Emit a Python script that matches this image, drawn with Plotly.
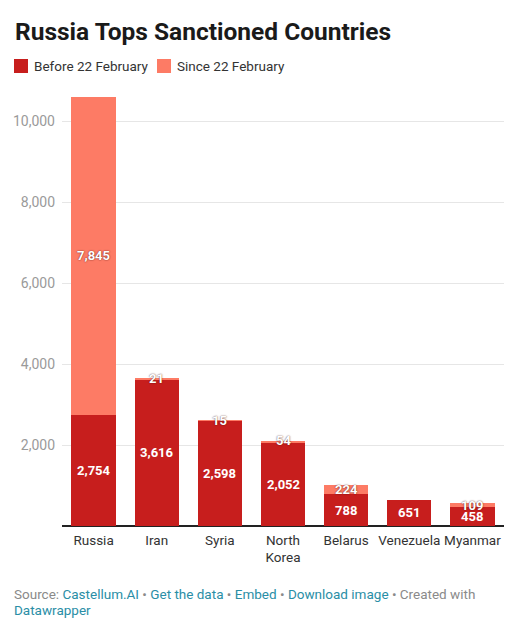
import plotly.graph_objects as go

countries = ["Russia", "Iran", "Syria", "North<br>Korea", "Belarus", "Venezuela", "Myanmar"]
before = [2754, 3616, 2598, 2052, 788, 651, 458]
since = [7845, 21, 15, 54, 224, 0, 109]
y_ticks = [2000, 4000, 6000, 8000, 10000]
series_names = ["Before 22 February", "Since 22 February"]

C_BEFORE = "#c71e1d"
C_SINCE = "#fd7b65"
FONT = "Roboto"
W, H = 508, 634
ML, MR, MT, MB = 62, 4, 97, 108
PW, PH = W - ML - MR, H - MT - MB

def px(x):  # screen x -> paper x
    return (x - ML) / PW

def py(y):  # screen y -> paper y
    return (H - MB - y) / PH

fig = go.Figure()
fig.add_trace(go.Bar(x=countries, y=before, name=series_names[0],
                     marker=dict(color=C_BEFORE, line=dict(width=0)), hoverinfo="skip"))
fig.add_trace(go.Bar(x=countries, y=since, name=series_names[1],
                     marker=dict(color=C_SINCE, line=dict(width=0)), hoverinfo="skip"))

# value labels
for c, b, s in zip(countries, before, since):
    fig.add_annotation(x=c, y=b / 2, text=f"<b>{b:,}</b>", showarrow=False,
                       font=dict(family=FONT, size=13, color="white"), yanchor="middle")
    if s > 0:
        ypos = b + s / 2 if s > 100 else b + s
        fig.add_annotation(x=c, y=ypos, text=f"<b>{s:,}</b>", showarrow=False,
                           font=dict(family=FONT, size=13, color="white",
                                     shadow="0px 0px 1.5px rgba(60,0,0,0.9)"),
                           yanchor="middle")

# title
fig.add_annotation(xref="paper", yref="paper", x=px(13), y=py(31), xanchor="left",
                   yanchor="middle", showarrow=False,
                   text="<b>Russia Tops Sanctioned Countries</b>",
                   font=dict(family=FONT, size=24.5, color="#1a1a1a"))

# legend (drawn manually to match spacing)
for (sx, tx), name, col in zip([(14, 32), (157, 175)], series_names, [C_BEFORE, C_SINCE]):
    fig.add_shape(type="rect", xref="paper", yref="paper",
                  x0=px(sx), x1=px(sx + 14), y0=py(73), y1=py(59),
                  fillcolor=col, line=dict(width=0))
    fig.add_annotation(xref="paper", yref="paper", x=px(tx), y=py(66), xanchor="left",
                       yanchor="middle", showarrow=False, text=name,
                       font=dict(family=FONT, size=13.5, color="#333333"))

# footer
footer1 = ("<span style='color:#8a8a8a'>Source: </span>"
           "<span style='color:#2a8ea6'>Castellum.AI</span>"
           "<span style='color:#8a8a8a'> • </span>"
           "<span style='color:#2a8ea6'>Get the data</span>"
           "<span style='color:#8a8a8a'> • </span>"
           "<span style='color:#2a8ea6'>Embed</span>"
           "<span style='color:#8a8a8a'> • </span>"
           "<span style='color:#2a8ea6'>Download image</span>"
           "<span style='color:#8a8a8a'> • Created with</span>")
fig.add_annotation(xref="paper", yref="paper", x=px(12), y=py(594),
                   xanchor="left", yanchor="middle", showarrow=False, text=footer1,
                   font=dict(family=FONT, size=13.5))
fig.add_annotation(xref="paper", yref="paper", x=px(12), y=py(610),
                   xanchor="left", yanchor="middle", showarrow=False,
                   text="<span style='color:#2a8ea6'>Datawrapper</span>",
                   font=dict(family=FONT, size=13.5))

fig.update_layout(
    width=W, height=H,
    margin=dict(l=ML, r=MR, t=MT, b=MB, autoexpand=False),
    barmode="stack", bargap=0.3,
    paper_bgcolor="white", plot_bgcolor="white",
    font=dict(family=FONT, size=13, color="#333333"),
    showlegend=False,
    xaxis=dict(showgrid=False, showline=False, ticks="", tickfont=dict(size=13.5, color="#333333"),
               fixedrange=True, automargin=False, ticklabelstandoff=4),
    yaxis=dict(range=[0, 10600], tickvals=y_ticks, ticktext=[f"{v:,}" for v in y_ticks],
               showgrid=True, gridcolor="#e6e6e6", gridwidth=1, zeroline=True,
               zerolinecolor="#222222", zerolinewidth=1.5, ticks="", showline=False,
               tickfont=dict(size=14, color="#9a9a9a"), ticklabelstandoff=6,
               fixedrange=True, automargin=False),
)

fig.write_html("out.html", config={"displayModeBar": False},
               post_script="document.body.style.margin='0';")
